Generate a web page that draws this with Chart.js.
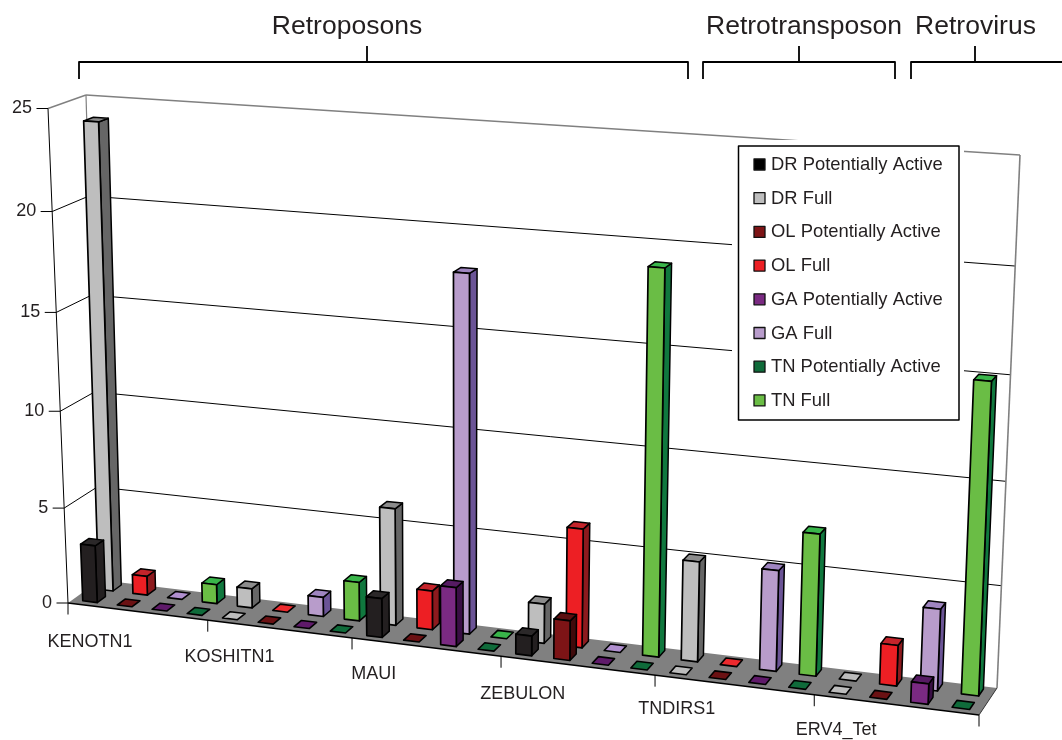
<!DOCTYPE html>
<html>
<head>
<meta charset="utf-8">
<title>Retroelement copies</title>
<script src="https://cdn.jsdelivr.net/npm/chart.js@4"></script>
<style>
  html, body { margin: 0; padding: 0; background: #fff; }
  canvas { display: block; }
</style>
</head>
<body>
<canvas id="copies" width="1062" height="740"></canvas>
<script>
const categories = ['KENOTN1', 'KOSHITN1', 'MAUI', 'ZEBULON', 'TNDIRS1', 'ERV4_Tet'];
const drPotential = [3, 0, 2, 1, 0, 0];
const drFull = [24, 1, 6, 2, 5, 0];
const olPotential = [0, 0, 0, 2, 0, 0];
const olFull = [1, 0, 2, 6, 0, 2];
const gaPotential = [0, 0, 3, 0, 0, 1];
const gaFull = [0, 1, 18, 0, 5, 4];
const tnPotential = [0, 0, 0, 0, 0, 0];
const tnFull = [1, 2, 0, 19, 7, 15];
const groupNames = ['Retroposons', 'Retrotransposon', 'Retrovirus'];

// box corners of the 3d plot: front/back, left/right, bottom/top
const box = {
    flb: [68, 603], flt: [48, 108.5], frb: [979, 715], frt: [1000, 173],
    blb: [100, 580], blt: [86, 95], brb: [997, 688], brt: [1020, 155]
};
const UWARP = 0.094, WWARP = 0.05;
const INK = '#231f20';
const FONT = '"Liberation Sans", Arial, sans-serif';
// how far each category name hangs below the front edge
const labelDrop = [31, 28, 27, 28, 24, 25];

function warp(t, k) {
    return (1 - k) * t / (1 - k * t);
}

function mix(a, b, t) {
    return [a[0] + (b[0] - a[0]) * t, a[1] + (b[1] - a[1]) * t];
}

// u along the categories, v into the depth, w up the value axis (all 0..1)
function project(u, v, w) {
    const uu = warp(u, UWARP), ww = warp(w, WWARP);
    const fb = mix(box.flb, box.frb, uu), ft = mix(box.flt, box.frt, uu);
    const bb = mix(box.blb, box.brb, uu), bt = mix(box.blt, box.brt, uu);
    return mix(mix(fb, ft, ww), mix(bb, bt, ww), v);
}

function poly(ctx, pts, fill, stroke, lw) {
    ctx.beginPath();
    pts.forEach(function (p, i) {
        if (i === 0) ctx.moveTo(p[0], p[1]);
        else ctx.lineTo(p[0], p[1]);
    });
    ctx.closePath();
    if (fill) { ctx.fillStyle = fill; ctx.fill(); }
    if (stroke) { ctx.strokeStyle = stroke; ctx.lineWidth = lw; ctx.stroke(); }
}

function line(ctx, a, b, color, lw) {
    ctx.beginPath();
    ctx.moveTo(a[0], a[1]);
    ctx.lineTo(b[0], b[1]);
    ctx.strokeStyle = color;
    ctx.lineWidth = lw;
    ctx.stroke();
}

function label(ctx, text, x, y, size, align) {
    ctx.font = size + 'px ' + FONT;
    ctx.fillStyle = INK;
    ctx.textAlign = align;
    ctx.textBaseline = 'middle';
    ctx.fillText(text, x, y);
}

function drawWalls(ctx, yScale) {
    yScale.ticks.forEach(function (t) {
        const w = (yScale.bottom - yScale.getPixelForValue(t.value)) / yScale.height;
        const front = project(0, 0, w), back = project(0, 1, w), right = project(1, 1, w);
        const gray = t.value === yScale.max;
        if (t.value > 0) {
            line(ctx, front, back, gray ? '#808080' : '#000', gray ? 1.4 : 1);
            line(ctx, back, right, gray ? '#808080' : '#000', gray ? 1.6 : 1);
        }
        line(ctx, [front[0] - 11.5, front[1]], front, '#000', 1);
        label(ctx, String(t.value), front[0] - 16, front[1], 18, 'right');
    });
    line(ctx, project(0, 1, 0), project(0, 1, 1), '#808080', 1.2);
    line(ctx, project(1, 1, 0), project(1, 1, 1), '#808080', 1.6);
    line(ctx, project(0, 0, 0), project(0, 0, 1), '#000', 1);
    poly(ctx, [project(0, 0, 0), project(1, 0, 0), project(1, 1, 0), project(0, 1, 0)], '#808080');
    line(ctx, project(0, 0, 0), project(1, 0, 0), '#000', 1.4);
    line(ctx, project(1, 0, 0), project(1, 1, 0), '#333', 1);
}

function drawCategoryAxis(ctx, xScale) {
    const n = categories.length;
    for (let i = 0; i <= n; i++) {
        const p = project(i / n, 0, 0);
        line(ctx, p, [p[0], p[1] + 11.5], '#000', 1);
    }
    categories.forEach(function (name, i) {
        const u = (xScale.getPixelForValue(i) - xScale.left) / xScale.width;
        const p = project(u, 0, 0);
        label(ctx, name, p[0] - 46 - 15 * u, p[1] + labelDrop[i], 18, 'center');
    });
}

function drawBox(ctx, bar, ds, area, yScale) {
    const half = bar.width / 2;
    const u0 = (bar.x - half - area.left) / area.width;
    const u1 = (bar.x + half - area.left) / area.width;
    const h = (yScale.bottom - bar.y) / yScale.height;
    const v0 = ds.depthRow - ds.depthSize / 2, v1 = ds.depthRow + ds.depthSize / 2;
    const edge = '#000';
    if (h <= 0) {
        poly(ctx, [project(u0, v0, 0), project(u1, v0, 0), project(u1, v1, 0), project(u0, v1, 0)],
            ds.flatColor, edge, 1.6);
        return;
    }
    poly(ctx, [project(u1, v0, 0), project(u1, v1, 0), project(u1, v1, h), project(u1, v0, h)],
        ds.sideColor, edge, 1.5);
    poly(ctx, [project(u0, v0, h), project(u1, v0, h), project(u1, v1, h), project(u0, v1, h)],
        ds.topColor, edge, 1.5);
    poly(ctx, [project(u0, v0, 0), project(u1, v0, 0), project(u1, v0, h), project(u0, v0, h)],
        ds.frontColor, edge, 1.7);
}

function drawGroups(ctx) {
    // brackets over the three element classes
    const spans = [[79, 688, 367, 347], [703, 895, 799, 804], [911, 1070, 975, 975.5]];
    spans.forEach(function (s, i) {
        ctx.beginPath();
        ctx.moveTo(s[0], 79);
        ctx.lineTo(s[0], 62);
        ctx.lineTo(s[1], 62);
        ctx.lineTo(s[1], 79);
        ctx.moveTo(s[2], 62);
        ctx.lineTo(s[2], 46);
        ctx.strokeStyle = '#000';
        ctx.lineWidth = 1.8;
        ctx.stroke();
        label(ctx, groupNames[i], s[3], 26.5, 26.5, 'center');
    });
}

function drawLegend(ctx, datasets) {
    ctx.fillStyle = '#fff';
    ctx.fillRect(732, 140, 232, 286);
    ctx.strokeStyle = '#000';
    ctx.lineWidth = 1.5;
    ctx.strokeRect(738.5, 146, 220.5, 274);
    datasets.forEach(function (ds, i) {
        const y = 164 + i * 33.7;
        ctx.fillStyle = i === 0 ? '#000' : ds.frontColor;
        ctx.fillRect(754, y - 5, 11, 11);
        ctx.strokeStyle = '#111';
        ctx.lineWidth = 1.3;
        ctx.strokeRect(754, y - 5, 11, 11);
        label(ctx, ds.label, 771, y + 1, 18.4, 'left');
    });
}

// replaces the flat bars with the perspective boxes
const plot3d = {
    id: 'plot3d',
    beforeDatasetsDraw: function (chart) {
        const ctx = chart.ctx, area = chart.chartArea;
        const xScale = chart.scales.x, yScale = chart.scales.y;
        ctx.save();
        ctx.lineJoin = 'round';
        drawGroups(ctx);
        drawWalls(ctx, yScale);
        drawCategoryAxis(ctx, xScale);
        // back row first, then the front row
        const order = chart.data.datasets.map(function (ds, i) { return i; })
            .sort(function (a, b) {
                return chart.data.datasets[b].depthRow - chart.data.datasets[a].depthRow || a - b;
            });
        order.forEach(function (i) {
            const ds = chart.data.datasets[i];
            chart.getDatasetMeta(i).data.forEach(function (bar) {
                drawBox(ctx, bar, ds, area, yScale);
            });
        });
        drawLegend(ctx, chart.data.datasets);
        ctx.restore();
        return false;
    }
};

function series(name, values, stack, row, front, side, top, flat) {
    return {
        label: name, data: values, stack: stack,
        depthRow: row, depthSize: 0.26,
        frontColor: front, sideColor: side, topColor: top, flatColor: flat,
        backgroundColor: front
    };
}

const FRONT_ROW = 0.28, BACK_ROW = 0.78;

new Chart(document.getElementById('copies'), {
    type: 'bar',
    data: {
        labels: categories,
        datasets: [
            series('DR Potentially Active', drPotential, 'DR', FRONT_ROW, '#231f20', '#231f20', '#2b2829', '#bcbcbc'),
            series('DR Full', drFull, 'DR', BACK_ROW, '#bebebe', '#666666', '#8c8c8c', '#bcbcbc'),
            series('OL Potentially Active', olPotential, 'OL', FRONT_ROW, '#7d1416', '#3f0a0b', '#5c0f10', '#6b1113'),
            series('OL Full', olFull, 'OL', BACK_ROW, '#ed1f24', '#8d1a1e', '#c4242b', '#ed2a2e'),
            series('GA Potentially Active', gaPotential, 'GA', FRONT_ROW, '#7a2a82', '#3a0f45', '#561b63', '#5f1a6a'),
            series('GA Full', gaFull, 'GA', BACK_ROW, '#b89ccb', '#6b5496', '#9f85c0', '#b08fcf'),
            series('TN Potentially Active', tnPotential, 'TN', FRONT_ROW, '#0f6b3a', '#0b5a30', '#0f6b3a', '#0f6b3a'),
            series('TN Full', tnFull, 'TN', BACK_ROW, '#6abd45', '#10783e', '#39b54a', '#39b54a')
        ]
    },
    options: {
        responsive: false,
        animation: false,
        categoryPercentage: 1,
        barPercentage: 0.42,
        layout: { padding: 0 },
        plugins: {
            legend: { display: false },
            tooltip: { enabled: false }
        },
        scales: {
            x: { display: false },
            y: { display: false, stacked: false, min: 0, max: 25, ticks: { stepSize: 5 } }
        }
    },
    plugins: [plot3d]
});
</script>
</body>
</html>
